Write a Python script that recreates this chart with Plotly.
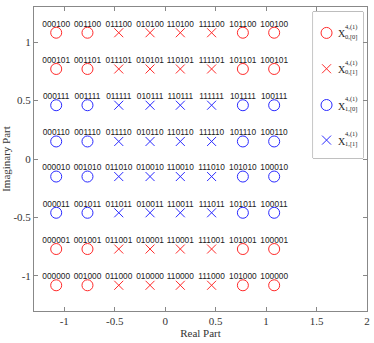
import plotly.graph_objects as go

# constellation levels
real_levels = [-1.08, -0.77, -0.46, -0.15, 0.15, 0.46, 0.77, 1.08]
imag_levels = [1.08, 0.77, 0.46, 0.15, -0.15, -0.46, -0.77, -1.08]

# bit labels, one list per row, top to bottom
labels = [
    ["000100", "001100", "011100", "010100", "110100", "111100", "101100", "100100"],
    ["000101", "001101", "011101", "010101", "110101", "111101", "101101", "100101"],
    ["000111", "001111", "011111", "010111", "110111", "111111", "101111", "100111"],
    ["000110", "001110", "011110", "010110", "110110", "111110", "101110", "100110"],
    ["000010", "001010", "011010", "010010", "110010", "111010", "101010", "100010"],
    ["000011", "001011", "011011", "010011", "110011", "111011", "101011", "100011"],
    ["000001", "001001", "011001", "010001", "110001", "111001", "101001", "100001"],
    ["000000", "001000", "011000", "010000", "110000", "111000", "101000", "100000"],
]

# which rows are the "0" subset (red) and which columns are "[0]" (circles)
red_rows = [0, 1, 6, 7]
circle_cols = [0, 1, 6, 7]

x_ticks = [-1, -0.5, 0, 0.5, 1, 1.5, 2]
y_ticks = [-1, -0.5, 0, 0.5, 1]

legend_sup = ["4,(1)", "4,(1)", "4,(1)", "4,(1)"]
legend_sub = ["0,[0]", "0,[1]", "1,[0]", "1,[1]"]

RED = "#ff2a2a"
BLUE = "#2a2aff"
SERIF = "Liberation Serif, Times New Roman, serif"
SANS = "Liberation Sans, Arial, sans-serif"

groups = {k: {"x": [], "y": [], "t": []} for k in range(4)}
for r, row in enumerate(labels):
    for c, lab in enumerate(row):
        k = (0 if r in red_rows else 2) + (0 if c in circle_cols else 1)
        groups[k]["x"].append(real_levels[c])
        groups[k]["y"].append(imag_levels[r])
        groups[k]["t"].append(lab)


def style(k):
    color = RED if k < 2 else BLUE
    if k % 2 == 0:
        return dict(symbol="circle-open", size=11, color=color, line=dict(width=1, color=color))
    return dict(symbol="x-thin-open", size=9, color=color, line=dict(width=1, color=color))


fig = go.Figure()
for k in range(4):
    fig.add_trace(go.Scatter(
        x=groups[k]["x"], y=groups[k]["y"], mode="markers",
        marker=style(k), showlegend=False, cliponaxis=False,
    ))
    # bit labels just above each point (invisible small marker sets the offset)
    fig.add_trace(go.Scatter(
        x=groups[k]["x"], y=groups[k]["y"], text=groups[k]["t"],
        mode="markers+text", textposition="top center",
        textfont=dict(family=SANS, size=8.3, color="#1a1a1a"),
        marker=dict(size=5, opacity=0), showlegend=False, hoverinfo="skip",
        cliponaxis=False,
    ))

# hand-made legend box (stacked super/subscripts), drawn on its own small axis
leg_x0, leg_x1, leg_y0, leg_y1 = 0.838, 0.988, 0.503, 0.984
leg_marker_x = [0.27, 0.27, 0.27, 0.27]
leg_marker_y = [0.856, 0.611, 0.363, 0.123]
for k in range(4):
    fig.add_trace(go.Scatter(
        x=[leg_marker_x[k]], y=[leg_marker_y[k]], mode="markers",
        marker=style(k), xaxis="x2", yaxis="y2", showlegend=False, hoverinfo="skip",
    ))

fig.add_shape(type="rect", xref="paper", yref="paper",
              x0=leg_x0, x1=leg_x1, y0=leg_y1, y1=leg_y0,
              line=dict(color="#888888", width=1), fillcolor="white", layer="below")

for k in range(4):
    yy = leg_marker_y[k]
    fig.add_annotation(xref="x2", yref="y2", x=0.45, y=yy - 0.007, text="X",
                       showarrow=False, xanchor="left", yanchor="middle",
                       font=dict(family=SERIF, size=10, color="#262626"))
    fig.add_annotation(xref="x2", yref="y2", x=0.6, y=yy + 0.04, text=legend_sup[k],
                       showarrow=False, xanchor="left", yanchor="middle",
                       font=dict(family=SERIF, size=6.5, color="#262626"))
    fig.add_annotation(xref="x2", yref="y2", x=0.6, y=yy - 0.025, text=legend_sub[k],
                       showarrow=False, xanchor="left", yanchor="middle",
                       font=dict(family=SERIF, size=6.5, color="#262626"))

axis_common = dict(
    showgrid=False, zeroline=False, showline=True, linecolor="#888888", linewidth=1,
    mirror="ticks", ticks="inside", ticklen=4, tickcolor="#888888",
    tickfont=dict(family=SERIF, size=11, color="#333333"),
)

fig.update_layout(
    width=374, height=343,
    margin=dict(l=34, r=7, t=7, b=32, autoexpand=False),
    plot_bgcolor="white", paper_bgcolor="white",
    showlegend=False,
    xaxis=dict(domain=[0, 1], anchor="y", range=[-1.3, 2],
               tickvals=x_ticks, ticktext=[str(v) for v in x_ticks],
               title=dict(text="Real Part", standoff=1,
                          font=dict(family=SERIF, size=11, color="#333333")),
               **axis_common),
    yaxis=dict(domain=[0, 1], anchor="x", range=[-1.3, 1.3],
               tickvals=y_ticks, ticktext=[str(v) for v in y_ticks],
               title=dict(text="Imaginary Part", standoff=2,
                          font=dict(family=SERIF, size=11, color="#333333")),
               **axis_common),
    xaxis2=dict(domain=[leg_x0, leg_x1], range=[0, 1], anchor="y2", visible=False),
    yaxis2=dict(domain=[leg_y0, leg_y1], range=[0, 1], anchor="x2", visible=False),
)

# the page's default body margin would shift the figure by 8px
fig.write_html("out.html", config={"displayModeBar": False},
               post_script="document.body.style.margin='0';")
